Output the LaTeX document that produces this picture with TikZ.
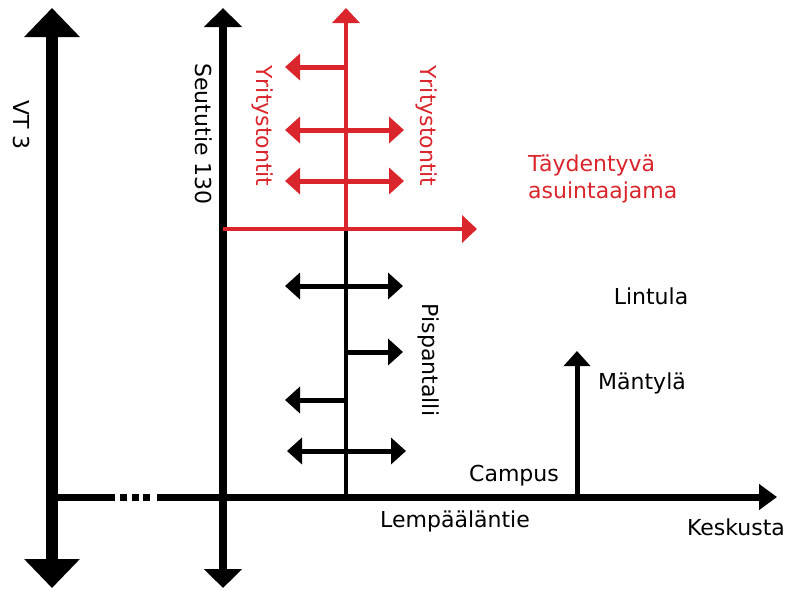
\documentclass[tikz,border=0pt]{standalone}
\usepackage{fontspec}
\setmainfont{DejaVu Sans}
\usepackage{tikz}
\usetikzlibrary{arrows.meta}
\definecolor{kaavared}{RGB}{218,37,44}
\tikzset{plottip/.tip={Triangle[width=26pt,length=15pt]},
  redtip/.tip={Triangle[width=27pt,length=15pt]}}

\begin{document}
\begin{tikzpicture}[x=1pt,y=-1pt,font=\fontsize{22}{27}\selectfont]

%
% Styles
%
\tikzstyle{vtroad} = [line width=12pt,{Triangle[width=54pt,length=29pt]}-{Triangle[width=54pt,length=29pt]}]
\tikzstyle{seuturoad} = [line width=8pt,{Triangle[width=37pt,length=19pt]}-{Triangle[width=37pt,length=19pt]}]
\tikzstyle{mainroad} = [line width=7pt]
\tikzstyle{street} = [line width=4.5pt]
\tikzstyle{plot} = [line width=5pt]
\tikzstyle{lbl} = [inner sep=0pt]
\tikzstyle{redlbl} = [inner sep=0pt,text=kaavared]

\useasboundingbox (0,0) rectangle (799,590);

% roads
\coordinate (vttop) at (52,8);
\coordinate (vtbot) at (52,588);
\coordinate (sttop) at (223,8);
\coordinate (stbot) at (223,588);
\coordinate (lwest) at (58,497);
\coordinate (gapa) at (115,497);
\coordinate (dotsa) at (120,497);
\coordinate (dotsb) at (150,497);
\coordinate (gapb) at (157,497);
\coordinate (least) at (777,497);
\coordinate (pisp) at (346,497);
\coordinate (cross) at (346,229);
\coordinate (redtop) at (346,8);
\coordinate (redwest) at (223,229);
\coordinate (redeast) at (477,229);
\coordinate (campus) at (577,497);
\coordinate (mantyla) at (577,351);

\draw[vtroad] (vtbot) -- (vttop);
\draw[seuturoad] (stbot) -- (sttop);
\draw[mainroad] (lwest) -- (gapa);
\draw[mainroad,dash pattern=on 7pt off 4.5pt] (dotsa) -- (dotsb);
\draw[mainroad,-{Triangle[width=25pt,length=18pt]}] (gapb) -- (least);
\draw[line width=5pt,-{Triangle[width=26pt,length=15pt]}] (campus) -- (mantyla);

% Pispantalli
\draw[street] (pisp) -- (cross);
\draw[plot,plottip-plottip] (285,286) -- (403,286);
\draw[plot,-plottip] (346,352) -- (403,352);
\draw[plot,-plottip] (346,400) -- (285,400);
\draw[plot,plottip-plottip] (287,451) -- (406,451);

% new area
\draw[street,kaavared,-redtip] (cross) -- (redtop);
\draw[street,kaavared,-redtip] (redwest) -- (redeast);
\draw[plot,kaavared,-plottip] (346,67) -- (285,67);
\draw[plot,kaavared,plottip-plottip] (285,130) -- (404,130);
\draw[plot,kaavared,plottip-plottip] (285,181) -- (404,181);

% labels
\node[lbl,rotate=-90] (vt3) at (22,125) {VT 3};
\node[lbl,rotate=-90] (seututie) at (204,134) {Seututie 130};
\node[redlbl,rotate=-90] (yritysw) at (263,126) {Yritystontit};
\node[redlbl,rotate=-90] (yrityse) at (427,126) {Yritystontit};
\node[redlbl,anchor=west,align=left] (taydentyva) at (528,179) {Täydentyvä\\asuintaajama};
\node[lbl,rotate=-90] (pispantalli) at (429,360) {Pispantalli};
\node[lbl] (lintula) at (651,296) {Lintula};
\node[lbl] (mantylalbl) at (642,383) {Mäntylä};
\node[lbl] (campuslbl) at (514,476) {Campus};
\node[lbl] (lempaala) at (455,521) {Lempääläntie};
\node[lbl] (keskusta) at (736,527) {Keskusta};

\end{tikzpicture}
\end{document}
